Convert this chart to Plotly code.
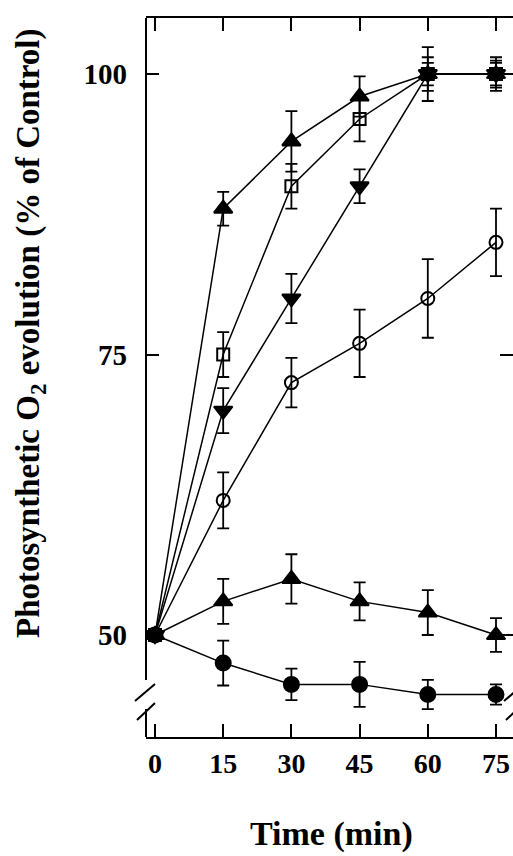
import plotly.graph_objects as go

time = [0, 15, 30, 45, 60, 75]

tri_up_high = [50, 88, 94, 98, 100, 100]
tri_up_high_err = [0, 1.5, 2.7, 1.8, 2.4, 1.5]

square_open = [50, 75, 90, 96, 100, 100]
square_open_err = [0, 2, 2, 2, 1.0, 1.2]

tri_down = [50, 70, 80, 90, 100, 100]
tri_down_err = [0, 2, 2.2, 1.5, 1.5, 1.0]

circle_open = [50, 62, 72.5, 76, 80, 85]
circle_open_err = [0, 2.5, 2.2, 3, 3.5, 3]

tri_up_low = [50, 53, 55, 53, 52, 50]
tri_up_low_err = [0, 2, 2.2, 1.7, 2, 1.5]

circle_filled = [50, 47.5, 45.6, 45.6, 44.7, 44.7]
circle_filled_err = [0, 2, 1.4, 2, 1.3, 0.9]

x_ticks = [0, 15, 30, 45, 60, 75]
y_ticks = [50, 75, 100]

series = [
    (tri_up_high, tri_up_high_err, "triangle-up", 16),
    (square_open, square_open_err, "square-open", 12),
    (tri_down, tri_down_err, "triangle-down", 16),
    (circle_open, circle_open_err, "circle-open", 13),
    (tri_up_low, tri_up_low_err, "triangle-up", 16),
    (circle_filled, circle_filled_err, "circle", 15),
]

FONT = "Liberation Serif, Times New Roman, serif"

fig = go.Figure()
for vals, errs, sym, size in series:
    fig.add_trace(go.Scatter(
        x=time, y=vals, mode="lines+markers",
        line=dict(color="black", width=1.5),
        marker=dict(symbol=sym, size=size, color="black",
                    line=dict(color="black", width=2)),
        error_y=dict(type="data", array=errs, visible=True,
                     color="black", thickness=1.8, width=6),
        showlegend=False, cliponaxis=False,
    ))

W, H = 513, 856
PL, PR, PT, PB = 146, 513, 18, 737  # plot area edges in page pixels
L, R, T, B = PL, W - PR, PT, H - PB
pw = W - L - R
ph = H - T - B

def px(xp):
    return (xp - PL) / pw

def py(yp):
    return (PB - yp) / ph

shapes = []
line_style = dict(color="black", width=2)
# broken left spine (the right spine lies just beyond the picture edge)
shapes.append(dict(type="line", xref="paper", yref="paper",
                   x0=px(PL), x1=px(PL), y0=py(680), y1=1, line=line_style))
shapes.append(dict(type="line", xref="paper", yref="paper",
                   x0=px(PL), x1=px(PL), y0=0, y1=py(709), line=line_style))
# break slashes, left and right
for side_x in (PL, PR + 2):
    shapes.append(dict(type="line", xref="paper", yref="paper",
                       x0=px(side_x - 11), y0=py(701), x1=px(side_x + 9), y1=py(684),
                       line=line_style))
    shapes.append(dict(type="line", xref="paper", yref="paper",
                       x0=px(side_x - 9), y0=py(720), x1=px(side_x + 9), y1=py(703),
                       line=line_style))

fig.update_layout(
    width=W, height=H,
    margin=dict(l=L, r=R, t=T, b=B, autoexpand=False),
    paper_bgcolor="white", plot_bgcolor="white",
    font=dict(family=FONT, color="black", weight="bold"),
    shapes=shapes,
    xaxis=dict(
        range=[-1.98, 78.74], tickvals=x_ticks, automargin=False,
        ticks="inside", ticklen=13, tickwidth=2, tickcolor="black",
        showline=True, linecolor="black", linewidth=2, mirror="ticks",
        showgrid=False, zeroline=False,
        tickfont=dict(family=FONT, size=28, weight="bold"),
        ticklabelstandoff=0,
    ),
    yaxis=dict(
        range=[40.91, 105.0], tickvals=y_ticks, automargin=False,
        ticks="inside", ticklen=13, tickwidth=2, tickcolor="black",
        showline=False, mirror="ticks",
        showgrid=False, zeroline=False,
        tickfont=dict(family=FONT, size=29, weight="bold"),
        ticklabelstandoff=18,
    ),
    annotations=[
        dict(text="Time (min)", xref="paper", yref="paper",
             x=px(331), y=py(834), xanchor="center", yanchor="middle",
             showarrow=False, font=dict(family=FONT, size=34, weight="bold")),
        dict(text="Photosynthetic O<sub>2</sub> evolution (% of Control)",
             xref="paper", yref="paper", textangle=-90,
             x=px(31), y=py(333), xanchor="center", yanchor="middle",
             showarrow=False, font=dict(family=FONT, size=33, weight="bold")),
    ],
)

fig.write_html(
    "out.html",
    config={"displayModeBar": False},
    post_script="document.body.style.margin='0px';document.body.style.overflow='hidden';",
)
